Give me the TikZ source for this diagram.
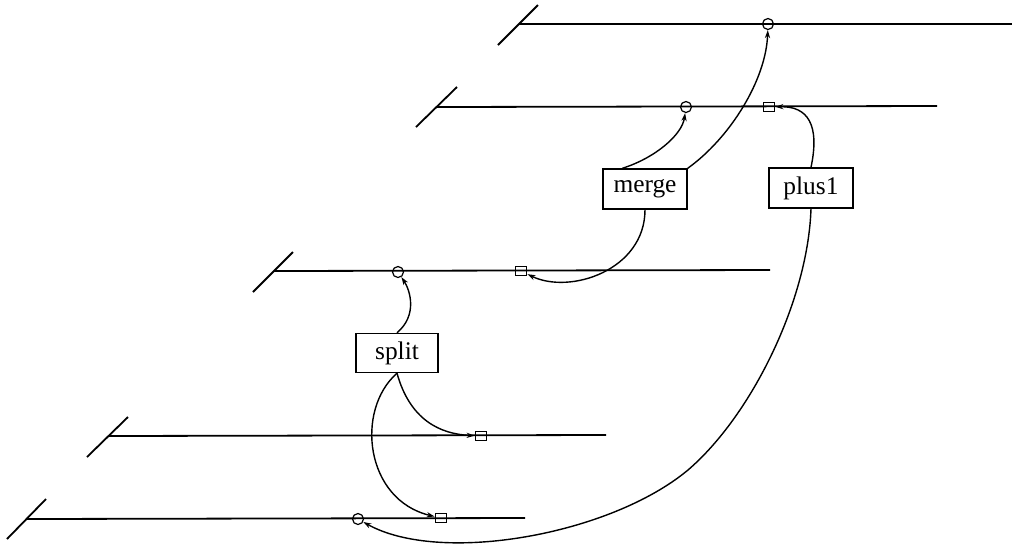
\documentclass[tikz,border=0pt]{standalone}
\usepackage{fontspec}
\setmainfont{Liberation Serif}
\usetikzlibrary{arrows.meta}
\begin{document}
\begin{tikzpicture}[x=0.5pt,y=-0.5pt,
  rail/.style={line width=0.9pt},
  slash/.style={line width=0.9pt},
  fbox/.style={draw,line width=0.7pt,minimum width=42pt,minimum height=20pt,inner sep=0pt,font=\fontsize{12.7}{15}\selectfont},
  ring/.style={draw,circle,line width=0.6pt,minimum size=5.5pt,inner sep=0pt},
  sq/.style={draw,rectangle,line width=0.6pt,minimum width=5.8pt,minimum height=4.8pt,inner sep=0pt},
  link/.style={line width=0.7pt,-{Stealth[length=4pt,width=2.6pt]}}]
\useasboundingbox (0,0) rectangle (1014,543);
% rails
\draw[slash] (498,45) -- (538,5);
\draw[rail] (519,24) -- (1012,24);
\draw[slash] (416,127) -- (457,87);
\draw[rail] (437,107) -- (937,106);
\draw[slash] (253,292) -- (293,252);
\draw[rail] (274,271) -- (770,270);
\draw[slash] (87,457) -- (128,417);
\draw[rail] (108,436) -- (606,435);
\draw[slash] (7,539) -- (46,499);
\draw[rail] (27,519) -- (525,518);
% markers
\node[ring] (c0) at (768,24) {};
\node[ring] (c1) at (686,107) {};
\node[sq] (s1) at (769,107) {};
\node[ring] (c2) at (398,272) {};
\node[sq] (s2) at (521,271) {};
\node[sq] (s3) at (481,436) {};
\node[sq] (s4) at (441,518) {};
\node[ring] (c3) at (358,519) {};
% boxes
\node[fbox] (merge) at (645,189) {merge};
\node[fbox] (plus) at (811,188) {plus1};
\node[fbox,minimum width=41pt,minimum height=19.5pt] (split) at (397,353) {split};
% connectors
\draw[link] (merge.north west) ++(20,0) coordinate (m1)
  (m1) .. controls (655,158) and (682,135) .. (c1);
\draw[link] (merge.north east) .. controls (730,138) and (766,80) .. (c0);
\draw[link] (plus.north) .. controls (820,125) and (808,106) .. (s1);
\draw[link] (merge.south) .. controls (645,270) and (570,295) .. (s2);
\draw[link] (split.north) .. controls (418,315) and (410,290) .. (c2);
\draw[link] (split.south) .. controls (410,420) and (440,434) .. (s3);
\draw[link] (split.south) .. controls (355,410) and (365,500) .. (s4);
\coordinate (pm) at (688,470);
\draw[link] (plus.south) .. controls (808,300) and (752,415) .. (pm)
  .. controls (610,535) and (440,565) .. (c3);
\end{tikzpicture}
\end{document}
